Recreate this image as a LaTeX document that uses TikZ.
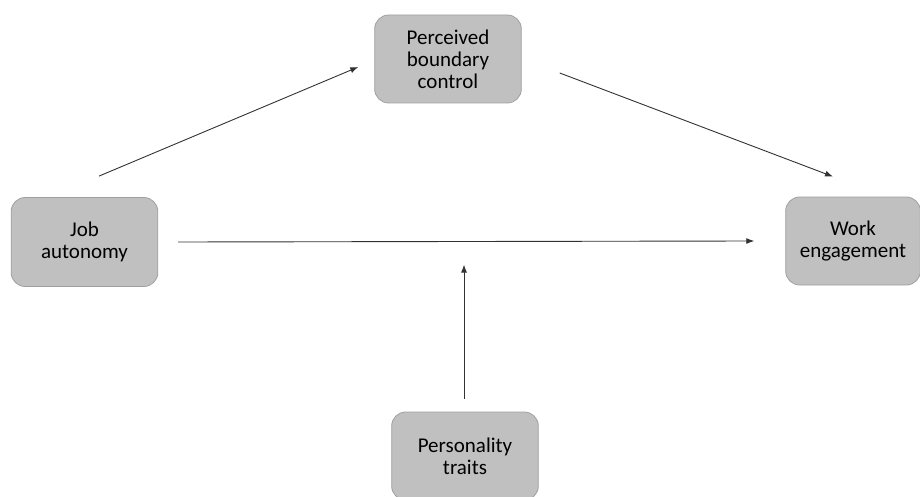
\documentclass[tikz,border=0pt]{standalone}
\usepackage{fontspec}
\setmainfont{Carlito}
\usepackage{tikz}
\usetikzlibrary{positioning,arrows.meta}
\tikzset{c-box/.style={rectangle, rounded corners=14pt, minimum width=144pt, minimum height=88pt, text centered, text width=140pt, draw=c_border, fill=c_fill, line width=0.8pt, font=\fontsize{21}{22}\selectfont},
arrow/.style={line width=0.9pt, draw=c_line, -{Latex[length=8pt,width=6pt]}}}
\definecolor{c_fill}{RGB}{192,192,192}
\definecolor{c_border}{RGB}{160,160,160}
\definecolor{c_line}{RGB}{50,50,50}
\begin{document}
\begin{tikzpicture}[x=1pt, y=-1pt]
\useasboundingbox (0,0) rectangle (920,497);
\node (pbc) [c-box] at (448,59) {Perceived\\ boundary\\ control};
\node (ja) [c-box, minimum width=143pt, minimum height=89pt] at (84.5,242) {Job\\ autonomy};
\node (we) [c-box, minimum width=130pt, text width=128pt] at (853,241) {Work\\ engagement};
\node (pt) [c-box, minimum height=88pt] at (465,456) {Personality\\ traits};
\draw [arrow] ([xshift=14.5pt, yshift=21pt]ja.north) -- ([xshift=-16pt, yshift=-8pt]pbc.west);
\draw [arrow] ([xshift=38pt, yshift=-14pt]pbc.east) -- ([xshift=-20pt, yshift=20pt]we.north);
\draw [arrow] ([xshift=20pt]ja.east) -- ([xshift=-31pt]we.west);
\draw [arrow] ([xshift=-1pt, yshift=13pt]pt.north) -- ([xshift=-1pt, yshift=147pt]pt.north);
\end{tikzpicture}
\end{document}
